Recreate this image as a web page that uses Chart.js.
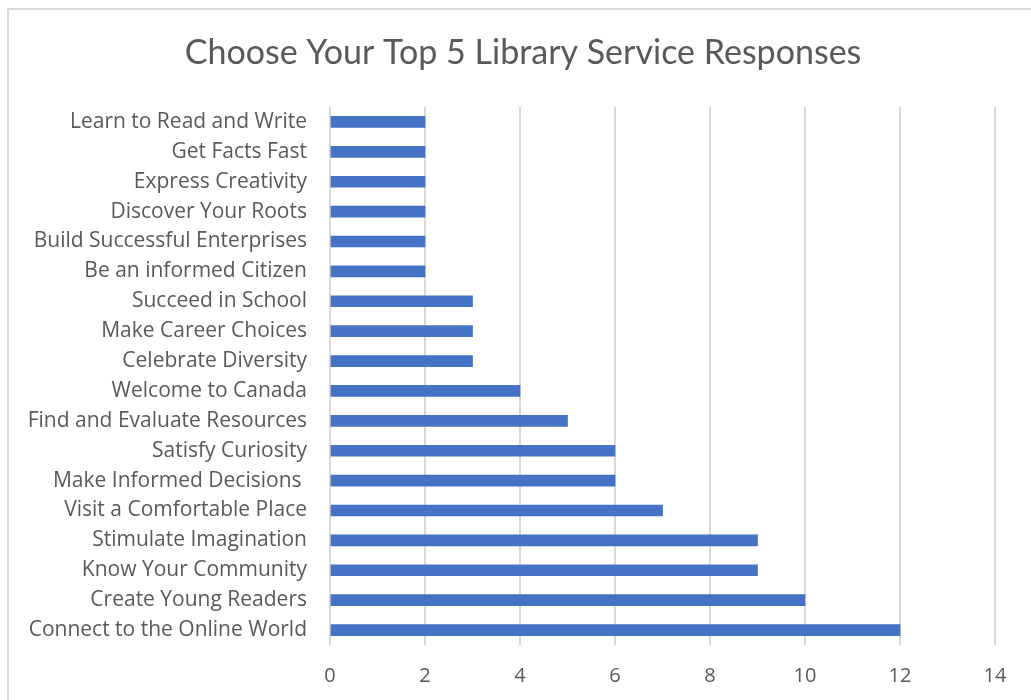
<!DOCTYPE html>
<html>
<head>
<meta charset="utf-8">
<script src="https://cdn.jsdelivr.net/npm/chart.js@4"></script>
<style>
    body { margin: 0; background: #fff; }
    #frame { position: absolute; left: 7px; top: 8px; width: 1026px; height: 800px; border: 2px solid #d9d9d9; border-right: none; box-sizing: border-box; }
    #wrap { position: absolute; left: 0; top: 0; width: 1031px; height: 700px; }
</style>
</head>
<body>
<div id="frame"></div>
<div id="wrap"><canvas id="chart"></canvas></div>
<script>
// categories, top to bottom
const categories = [
    'Learn to Read and Write',
    'Get Facts Fast',
    'Express Creativity',
    'Discover Your Roots',
    'Build Successful Enterprises',
    'Be an informed Citizen',
    'Succeed in School',
    'Make Career Choices',
    'Celebrate Diversity',
    'Welcome to Canada',
    'Find and Evaluate Resources',
    'Satisfy Curiosity',
    'Make Informed Decisions ',
    'Visit a Comfortable Place',
    'Stimulate Imagination',
    'Know Your Community',
    'Create Young Readers',
    'Connect to the Online World'
];
const responses = [2, 2, 2, 2, 2, 2, 3, 3, 3, 4, 5, 6, 6, 7, 9, 9, 10, 12];
const xTicks = [0, 2, 4, 6, 8, 10, 12, 14];
const titleText = 'Choose Your Top 5 Library Service Responses';

const textColor = '#595959';
const gridColor = '#d9d9d9';
const labelFont = '"Open Sans", sans-serif';
const titleFont = 'Lato, "Open Sans", sans-serif';

// the title is centred on the chart frame (Excel style), not on the plot
const frameTitle = {
    id: 'frameTitle',
    afterDraw(chart) {
        const frame = document.getElementById('frame').getBoundingClientRect();
        const ctx = chart.ctx;
        ctx.save();
        ctx.font = `34px ${titleFont}`;
        ctx.fillStyle = textColor;
        ctx.textAlign = 'center';
        ctx.textBaseline = 'middle';
        ctx.fillText(titleText, frame.left + frame.width / 2 + 3, 53);
        ctx.restore();
    }
};

document.addEventListener('DOMContentLoaded', () => {
    const ctx = document.getElementById('chart').getContext('2d');
    new Chart(ctx, {
        type: 'bar',
        data: {
            labels: categories,
            datasets: [{
                data: responses,
                backgroundColor: '#4472C4',
                barThickness: 11
            }]
        },
        plugins: [frameTitle],
        options: {
            indexAxis: 'y',
            responsive: true,
            maintainAspectRatio: false,
            animation: false,
            layout: { padding: { top: 107, right: 36, bottom: 13, left: 10 } },
            plugins: {
                legend: { display: false },
                tooltip: { enabled: false },
                title: { display: false }
            },
            scales: {
                x: {
                    min: 0,
                    max: 14,
                    afterBuildTicks: scale => {
                        scale.ticks = xTicks.map(v => ({ value: v }));
                    },
                    afterFit: scale => { scale.height = 42; },
                    grid: { color: gridColor, lineWidth: 2, drawTicks: false },
                    border: { display: false },
                    ticks: {
                        color: textColor,
                        padding: 19,
                        font: { family: labelFont, size: 20 }
                    }
                },
                y: {
                    grid: { display: false, drawTicks: false },
                    border: { display: false },
                    afterFit: scale => { scale.width = 320; },
                    ticks: {
                        color: textColor,
                        padding: 23,
                        autoSkip: false,
                        font: { family: labelFont, size: 21 }
                    }
                }
            }
        }
    });
});
</script>
</body>
</html>
